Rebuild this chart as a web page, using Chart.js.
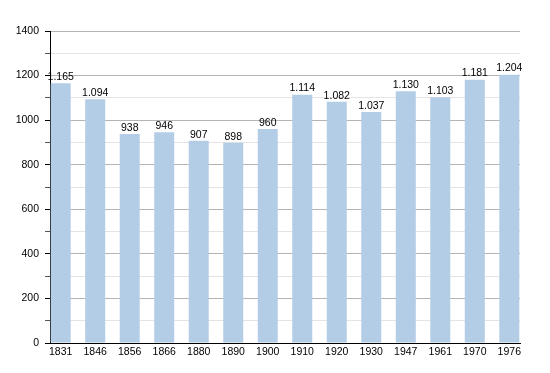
<!DOCTYPE html>
<html>
<head>
<meta charset="utf-8">
<script src="https://cdn.jsdelivr.net/npm/chart.js@4/dist/chart.umd.min.js"></script>
<style>
  body { margin: 0; background: #fff; }
</style>
</head>
<body>
<canvas id="chart" width="550" height="373"></canvas>
<script>
// data
const years = ["1831", "1846", "1856", "1866", "1880", "1890", "1900", "1910", "1920", "1930", "1947", "1961", "1970", "1976"];
const population = [1165, 1094, 938, 946, 907, 898, 960, 1114, 1082, 1037, 1130, 1103, 1181, 1204];
const yTickLabels = [0, 200, 400, 600, 800, 1000, 1200, 1400];

const FONT = "'Liberation Sans', Arial, sans-serif";

// 1165 -> "1.165"
function fmt(v) {
  return String(v).replace(/\B(?=(\d{3})+(?!\d))/g, ".");
}

// labels above the bars
const barLabels = {
  id: "barLabels",
  afterDatasetsDraw(chart) {
    const ctx = chart.ctx;
    const meta = chart.getDatasetMeta(0);
    ctx.save();
    ctx.font = "10.5px " + FONT;
    ctx.fillStyle = "#000";
    ctx.textAlign = "center";
    ctx.textBaseline = "bottom";
    meta.data.forEach((bar, i) => {
      ctx.fillText(fmt(population[i]), bar.x, bar.y - 1);
    });
    ctx.restore();
  }
};

const ctx = document.getElementById("chart").getContext("2d");
new Chart(ctx, {
  type: "bar",
  data: {
    datasets: [{
      data: population.map((v, i) => ({ x: i, y: v })),
      backgroundColor: "#b4cde6",
      borderWidth: 0,
      categoryPercentage: 1,
      barPercentage: 0.58
    }]
  },
  options: {
    responsive: false,
    animation: false,
    layout: { padding: { left: 0, right: 30, top: 31, bottom: 0 } },
    plugins: { legend: { display: false }, tooltip: { enabled: false } },
    scales: {
      x: {
        type: "linear",
        offset: false,
        min: -0.31,
        max: 13.31,
        afterBuildTicks: (scale) => { scale.ticks = years.map((y, i) => ({ value: i })); },
        afterFit: (scale) => { scale.height = 30; },
        grid: { display: false, offset: false, drawTicks: false, tickLength: 0 },
        border: { display: true, color: "#000", width: 1 },
        ticks: {
          autoSkip: false,
          maxRotation: 0,
          padding: 3,
          color: "#000",
          font: { family: FONT, size: 10.5 },
          callback: (v) => years[v] !== undefined ? years[v] : ""
        }
      },
      y: {
        min: 0,
        max: 1400,
        afterFit: (scale) => { scale.width = 50; },
        border: { display: true, color: "#000", width: 1 },
        grid: {
          color: (c) => (c.tick && c.tick.value % 200 === 0) ? "#b4b4b4" : "#e4e4e4",
          tickColor: (c) => (c.tick && c.tick.value % 200 === 0) ? "#000" : "#555",
          tickLength: 5
        },
        ticks: {
          stepSize: 100,
          padding: 6,
          color: "#000",
          font: { family: FONT, size: 10.5 },
          callback: (v) => yTickLabels.includes(v) ? String(v) : ""
        }
      }
    }
  },
  plugins: [barLabels]
});
</script>
</body>
</html>
